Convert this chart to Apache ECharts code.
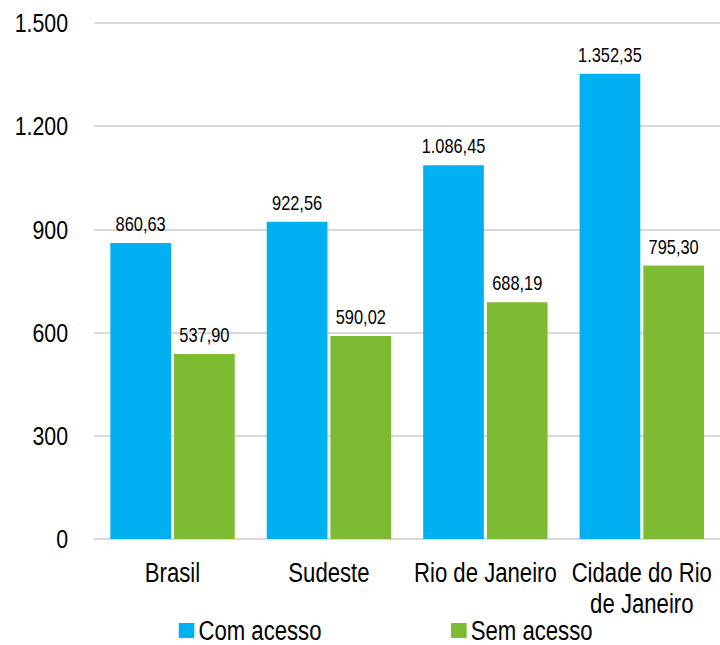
<!DOCTYPE html>
<html><head><meta charset="utf-8">
<script src="https://cdn.jsdelivr.net/npm/echarts@6/dist/echarts.min.js"></script>
<style>
html,body{margin:0;padding:0;background:#fff;overflow:hidden;width:720px;height:645px}
/* Emulate the condensed (Arial Narrow-like) face of the original by compressing horizontally */
#c{width:878px;height:645px;transform:scaleX(0.82005);transform-origin:0 0}
</style>
</head><body><div id="c"></div>
<script>
const categories = ['Brasil', 'Sudeste', 'Rio de Janeiro', 'Cidade do Rio\nde Janeiro'];
const comAcesso = [860.63, 922.56, 1086.45, 1352.35];
const semAcesso = [537.90, 590.02, 688.19, 795.30];
const seriesNames = ['Com acesso', 'Sem acesso'];
const yTicks = [0, 300, 600, 900, 1200, 1500];

const FONT = '"Liberation Sans", Arial, sans-serif';
function fmt(v, dec) {
  return v.toLocaleString('pt-BR', {minimumFractionDigits: dec, maximumFractionDigits: dec});
}
const chart = echarts.init(document.getElementById('c'), null, {renderer: 'svg'});
chart.setOption({
  animation: false,
  textStyle: {fontFamily: FONT},
  grid: {left: 115, right: 0, top: 23, bottom: 106, containLabel: false},
  legend: {
    top: 612, left: 213, itemWidth: 19, itemHeight: 15, itemGap: 158,
    icon: 'rect',
    textStyle: {fontSize: 27, color: '#000', fontFamily: FONT},
    data: seriesNames
  },
  xAxis: {
    type: 'category', data: categories,
    axisLine: {lineStyle: {color: '#d9d9d9', width: 2}},
    axisTick: {show: false},
    axisLabel: {color: '#000', fontSize: 27, margin: 18, lineHeight: 31, interval: 0, fontFamily: FONT}
  },
  yAxis: {
    type: 'value', min: yTicks[0], max: yTicks[yTicks.length - 1], interval: 300,
    axisLine: {show: false}, axisTick: {show: false},
    splitLine: {lineStyle: {color: '#d9d9d9', width: 2}},
    axisLabel: {color: '#000', fontSize: 26, margin: 32, fontFamily: FONT,
      formatter: v => fmt(v, 0)}
  },
  series: [
    {name: seriesNames[0], type: 'bar', data: comAcesso, barWidth: 74, barGap: '5%',
     itemStyle: {color: '#00b0f0'},
     label: {show: true, position: 'top', distance: 9, color: '#000', fontSize: 20, fontFamily: FONT,
       formatter: p => fmt(p.value, 2)}},
    {name: seriesNames[1], type: 'bar', data: semAcesso, barWidth: 74, barGap: '5%',
     itemStyle: {color: '#7dbb32'},
     label: {show: true, position: 'top', distance: 9, color: '#000', fontSize: 20, fontFamily: FONT,
       formatter: p => fmt(p.value, 2)}}
  ]
});
</script></body></html>
